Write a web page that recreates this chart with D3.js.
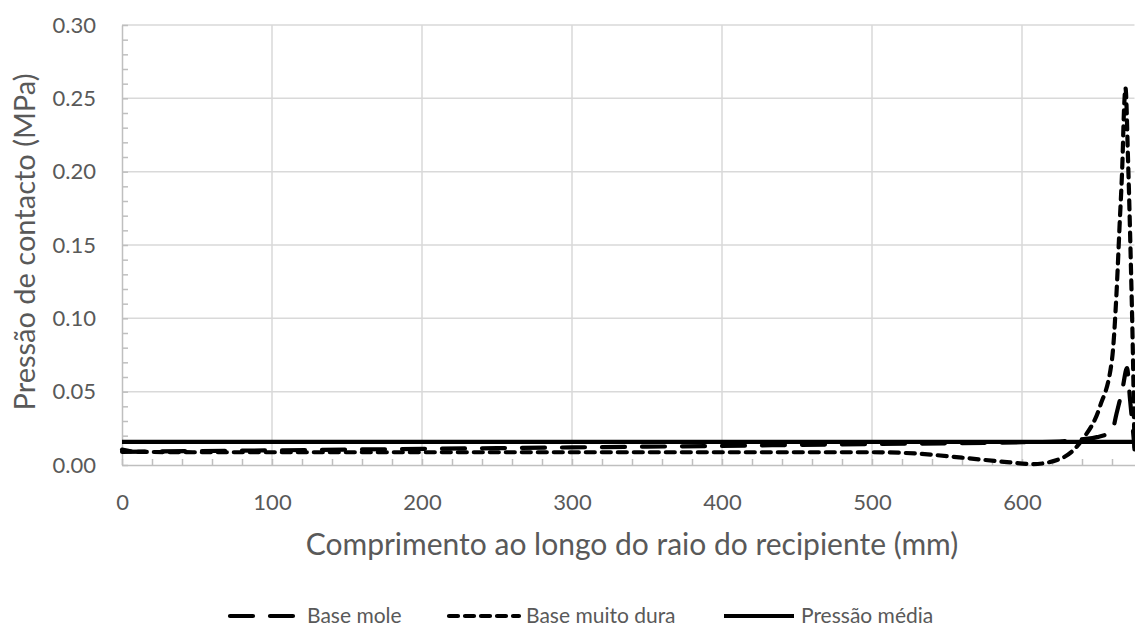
<!DOCTYPE html>
<html>
<head>
<meta charset="utf-8">
<script src="https://cdn.jsdelivr.net/npm/d3@7"></script>
<style>
body { margin: 0; background: #fff; }
text { font-family: Lato, "Open Sans", sans-serif; fill: #595959; }
</style>
</head>
<body>
<svg id="chart"></svg>
<script>
// data
var xTicks = [0, 100, 200, 300, 400, 500, 600];
var yTicks = [0, 0.05, 0.10, 0.15, 0.20, 0.25, 0.30];

var moleX = [0, 50, 100, 150, 200, 250, 300, 350, 400, 450, 500, 550, 600, 625, 640, 650, 660, 663, 667, 670, 672, 675];
var moleY = [0.009, 0.0095, 0.010, 0.0105, 0.011, 0.0115, 0.012, 0.0125, 0.013, 0.0137, 0.0143, 0.0148, 0.0155, 0.016, 0.0175, 0.019, 0.023, 0.035, 0.052, 0.066, 0.045, 0.012];

var duraX = [0, 10, 50, 100, 200, 300, 400, 500, 530, 560, 590, 607, 625, 640, 652, 660, 663, 665, 667, 668, 669, 670.7, 672.5, 674, 675];
var duraY = [0.0105, 0.009, 0.0087, 0.0087, 0.0087, 0.0087, 0.0087, 0.0087, 0.0078, 0.005, 0.002, 0.0006, 0.004, 0.017, 0.040, 0.072, 0.117, 0.162, 0.208, 0.242, 0.257, 0.208, 0.140, 0.072, 0.010];

var mediaX = [0, 675];
var mediaY = [0.0157, 0.0157];

var seriesNames = ["Base mole", "Base muito dura", "Pressão média"];

var drawChart = function() {
  var width = 1135, height = 628;
  var mLeft = 122, mRight = 1134.5, mTop = 25, mBottom = 465;

  var svg = d3.select("#chart")
    .attr("width", width)
    .attr("height", height);

  var x = d3.scaleLinear().domain([0, 675]).range([mLeft, mRight]);
  var y = d3.scaleLinear().domain([0, 0.30]).range([mBottom, mTop]);

  // gridlines
  svg.selectAll("line.hgrid")
    .data(yTicks.slice(1))
    .enter()
    .append("line")
    .attr("x1", mLeft).attr("x2", mRight)
    .attr("y1", function(d) { return y(d); })
    .attr("y2", function(d) { return y(d); })
    .attr("stroke", "#d9d9d9")
    .attr("stroke-width", 1.5);

  svg.selectAll("line.vgrid")
    .data(xTicks.slice(1))
    .enter()
    .append("line")
    .attr("y1", mTop).attr("y2", mBottom)
    .attr("x1", function(d) { return x(d); })
    .attr("x2", function(d) { return x(d); })
    .attr("stroke", "#d9d9d9")
    .attr("stroke-width", 1.5);

  // axes
  var xAxis = d3.axisBottom(x).tickValues(xTicks).tickSize(0).tickPadding(29).tickFormat(d3.format("d"));
  var yAxis = d3.axisLeft(y).tickValues(yTicks).tickSize(0).tickPadding(26).tickFormat(d3.format(".2f"));

  var gx = svg.append("g").attr("transform", "translate(0," + mBottom + ")").call(xAxis);
  var gy = svg.append("g").attr("transform", "translate(" + mLeft + ",0)").call(yAxis);

  [gx, gy].forEach(function(g) {
    g.select(".domain").attr("stroke", "#bfbfbf").attr("stroke-width", 1.5);
    g.selectAll("text").attr("font-size", 22).attr("fill", "#595959")
      .style("font-family", "Lato, sans-serif");
  });

  // minor ticks, pointing inward
  var xMinor = d3.axisTop(x).tickValues(d3.range(0, 675, 20)).tickSize(6).tickFormat("");
  svg.append("g").attr("transform", "translate(0," + mBottom + ")").call(xMinor)
    .call(function(g) { g.select(".domain").remove(); })
    .selectAll("line").attr("stroke", "#bfbfbf").attr("stroke-width", 1.5);

  var yMinor = d3.axisRight(y).tickValues(d3.range(0, 0.301, 0.01)).tickSize(6).tickFormat("");
  svg.append("g").attr("transform", "translate(" + mLeft + ",0)").call(yMinor)
    .call(function(g) { g.select(".domain").remove(); })
    .selectAll("line").attr("stroke", "#bfbfbf").attr("stroke-width", 1.5);

  // axis titles
  svg.append("text")
    .attr("x", 632)
    .attr("y", 555)
    .attr("text-anchor", "middle")
    .attr("font-size", 30)
    .text("Comprimento ao longo do raio do recipiente (mm)");

  svg.append("text")
    .attr("transform", "translate(35," + ((mTop + mBottom) / 2 - 3) + ") rotate(-90)")
    .attr("text-anchor", "middle")
    .attr("font-size", 29)
    .text("Pressão de contacto (MPa)");

  // lines
  var line = d3.line()
    .x(function(d) { return x(d[0]); })
    .y(function(d) { return y(d[1]); })
    .curve(d3.curveMonotoneX);

  var series = [
    { name: seriesNames[0], pts: d3.zip(moleX, moleY), dash: "23,17" },
    { name: seriesNames[1], pts: d3.zip(duraX, duraY), dash: "9,7" },
    { name: seriesNames[2], pts: d3.zip(mediaX, mediaY), dash: null }
  ];

  svg.selectAll("path.series")
    .data(series)
    .enter()
    .append("path")
    .attr("d", function(d) { return line(d.pts); })
    .attr("fill", "none")
    .attr("stroke", "#000")
    .attr("stroke-width", 4.2)
    .attr("stroke-linecap", function(d) { return d.dash ? "round" : "butt"; })
    .attr("stroke-linejoin", "round")
    .attr("stroke-dasharray", function(d) { return d.dash; });

  // legend
  var legendX = [230, 449, 724];
  var lg = svg.selectAll("g.legend")
    .data(series)
    .enter()
    .append("g")
    .attr("transform", function(d, i) { return "translate(" + legendX[i] + ",616)"; });

  lg.append("line")
    .attr("x1", 0).attr("x2", 70)
    .attr("stroke", "#000")
    .attr("stroke-width", 4.2)
    .attr("stroke-linecap", function(d) { return d.dash ? "round" : "butt"; })
    .attr("stroke-dasharray", function(d) { return d.dash; });

  lg.append("text")
    .attr("x", 77)
    .attr("y", 7)
    .attr("font-size", 21)
    .text(function(d) { return d.name; });
};

drawChart();
</script>
</body>
</html>
